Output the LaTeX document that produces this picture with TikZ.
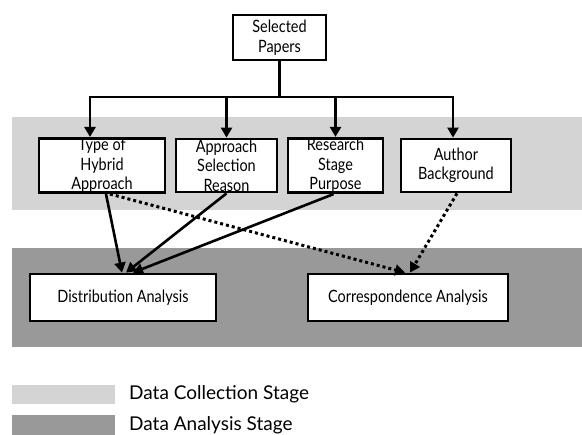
\documentclass[tikz,border=0pt]{standalone}
\usepackage{fontspec}
\setmainfont{Lato}[FakeStretch=0.85]
\newfontfamily\legendfont{Lato}
\usepackage{tikz}
\usetikzlibrary{arrows.meta,positioning,calc}
\definecolor{collectgray}{gray}{0.83}
\definecolor{analysisgray}{gray}{0.60}
\tikzset{%
  stage box/.style={%
    draw,
    fill=white,
    line width=2.8pt,
    align=center,
    inner sep=0pt,
    font=\fontsize{17}{19.5}\selectfont
  }
}
\tikzset{%
  tree link/.style={%
    line width=2.6pt,
    -{Triangle[length=10pt,width=11pt]}
  }
}
\tikzset{%
  dotted link/.style={%
    line width=3pt,
    dash pattern=on 3pt off 3pt,
    -{Triangle[length=10pt,width=11pt]}
  }
}

\begin{document}
\begin{tikzpicture}[x=1pt,y=-1pt]
  \useasboundingbox (0,0) rectangle (582,435);
  % stage bands
  \fill [collectgray] (12,117) rectangle (582,210);
  \fill [analysisgray] (12,248) rectangle (582,347);
  \node [stage box, minimum width=93pt, minimum height=45pt] (sel) at (279.5,37.5) {Selected\\Papers};
  \node [stage box, minimum width=126pt, minimum height=53pt] (type) at (102,165.5) {Type of\\Hybrid\\Approach};
  \node [stage box, minimum width=101pt, minimum height=53pt] (reason) at (226.5,165.5) {Approach\\Selection\\Reason};
  \node [stage box, minimum width=95pt, minimum height=53pt] (purpose) at (335.5,165.5) {Research\\Stage\\Purpose};
  \node [stage box, minimum width=110pt, minimum height=53pt] (author) at (456,165.5) {Author\\Background};
  \node [stage box, minimum width=186pt, minimum height=47pt] (distr) at (123,297.5) {Distribution Analysis};
  \node [stage box, minimum width=200pt, minimum height=47pt] (corresp) at (408,297.5) {Correspondence Analysis};
  \coordinate (bus) at (279.5,97);
  \draw [line width=2.6pt] (sel.south) -- (bus);
  \draw [tree link] (bus) -| ([xshift=-12pt]type.north);
  \draw [tree link] (bus) -| (reason.north);
  \draw [tree link] (bus) -| (purpose.north);
  \draw [tree link] (bus) -| ([xshift=-3pt]author.north);
  \draw [tree link] ([xshift=4pt]type.south) -- ([xshift=-1pt]distr.north);
  \draw [tree link] (reason.south) -- ([xshift=3pt]distr.north);
  \draw [tree link] ([xshift=-2pt]purpose.south) -- ([xshift=10pt]distr.north);
  \draw [dotted link] ([xshift=8pt]type.south) -- ([xshift=-3pt]corresp.north);
  \draw [dotted link] ([xshift=1pt]author.south) -- ([xshift=2pt]corresp.north);
  % legend
  \fill [collectgray] (12,385) rectangle (115,404);
  \fill [analysisgray] (12,415) rectangle (115,435);
  \node [anchor=west, inner sep=0pt, font=\legendfont\fontsize{19}{22}\selectfont] (leg1) at (129,394.5) {Data Collection Stage};
  \node [anchor=west, inner sep=0pt, font=\legendfont\fontsize{19}{22}\selectfont] (leg2) at (129,425) {Data Analysis Stage};
\end{tikzpicture}
\end{document}
